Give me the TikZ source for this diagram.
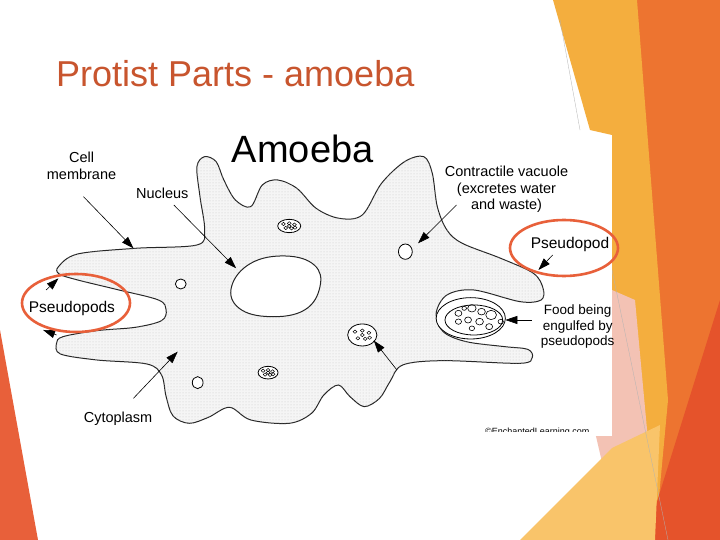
\documentclass[tikz,border=0pt]{standalone}
\usepackage{fontspec}
\setmainfont{Liberation Sans}
\usetikzlibrary{arrows.meta,patterns}
\definecolor{titlec}{HTML}{C8552E}
\definecolor{oran}{HTML}{ED7430}
\definecolor{yell}{HTML}{F4AE3E}
\definecolor{lyell}{HTML}{F9C46A}
\definecolor{dred}{HTML}{E5532B}
\definecolor{pinkc}{HTML}{F3C2B4}
\definecolor{ring}{HTML}{E8603A}
\tikzset{
 lab/.style={font=\fontsize{14.5}{16.5}\selectfont, align=center, inner sep=0pt},
 arr/.style={-{Triangle[length=12pt,width=8pt]}, line width=0.6pt},
 memb/.style={line width=1pt, draw=black!85},
 ringst/.style={draw=ring, line width=2.6pt},
}
\begin{document}
\begin{tikzpicture}[x=1pt,y=-1pt]
\useasboundingbox (0,0) rectangle (720,540);
\fill[white] (0,0) rectangle (720,540);
% decorations
\fill[oran] (637,0) -- (720,0) -- (720,540) -- (640,540) -- cycle;
\fill[yell] (553,0) -- (637,0) -- (668,400) -- (655,540) -- (600,540) -- (612,135) -- (590,130) -- cycle;
\fill[dred] (720,300) -- (720,540) -- (645,540) -- cycle;
\fill[pinkc] (612,290) -- (635,300) -- (648,440) -- (605,475) -- (595,432) -- (612,432) -- cycle;
\fill[lyell] (520,540) -- (612,448) -- (660,425) -- (655,540) -- cycle;
\fill[ring] (0,330) -- (38,540) -- (0,540) -- cycle;
\draw[gray!60, line width=0.3pt] (560,20) -- (580,130);
\draw[gray!60, line width=0.3pt] (612,270) -- (668,540);
% picture
\fill[white] (20,135) rectangle (612,432);
\node[font=\fontsize{36}{38}\selectfont, text=titlec, anchor=base west, inner sep=0pt] (title) at (56,87) {Protist Parts - amoeba};
\begin{scope}[shift={(20,130)}, xscale=0.3846, yscale=0.3333]
\def\amoeba{(100,410) (150,372) (300,355) (460,345) (480,300) (468,200) (460,110) (480,80) (510,95) (530,150) (560,210) (600,230)
 (630,165) (670,150) (720,175) (770,235) (830,265) (890,255) (940,160) (1000,95) (1050,80) (1072,130) (1085,230)
 (1110,300) (1150,340) (1250,385) (1335,430) (1360,475) (1355,510) (1300,515) (1180,480) (1110,495) (1082,550)
 (1100,605) (1160,635) (1260,650) (1320,658) (1332,682) (1300,700) (1100,692) (995,705) (962,755) (935,805)
 (895,830) (858,800) (828,765) (790,795) (758,850) (700,880) (600,870) (545,832) (490,862) (440,880) (398,858)
 (380,800) (368,735) (330,702) (200,690) (105,672) (95,640) (112,620) (200,602) (300,592) (368,572) (380,540)
 (360,510) (250,478) (150,450) (102,432)}
\path[memb, fill=gray!8] plot[smooth cycle, tension=0.55] coordinates {\amoeba};
\path[pattern=dots, pattern color=gray!45] plot[smooth cycle, tension=0.55] coordinates {\amoeba};
% nucleus
\draw[memb, fill=white] plot[smooth cycle, tension=0.7] coordinates {(550,470) (600,400) (690,378) (765,405) (780,470) (740,540) (650,560) (570,535)};
% vacuoles
\draw[line width=0.8pt, fill=white] (1002,365) ellipse [x radius=18, y radius=23];
\draw[line width=0.8pt, fill=white] (418,462) ellipse [x radius=14, y radius=15];
\draw[line width=0.8pt, fill=white] (462,758) ellipse [x radius=14, y radius=18];
% food clusters
\foreach \cx/\cy/\rx/\ry in {700/288/30/20, 890/615/38/33, 645/728/26/19}{
 \draw[line width=0.8pt, fill=white] (\cx,\cy) ellipse [x radius=\rx, y radius=\ry];
 \foreach \dx/\dy in {-0.5/-0.3, 0/-0.4, 0.45/-0.2, -0.3/0.3, 0.2/0.35, 0.5/0.25, 0/0}
   \draw[line width=0.5pt] (\cx+\dx*\rx,\cy+\dy*\ry) circle [radius=5];
}
% food vacuole
\draw[line width=0.8pt, fill=white] (1172,565) ellipse [x radius=90, y radius=62];
\draw[line width=0.8pt] (1180,570) ellipse [x radius=75, y radius=45];
\foreach \dx/\dy/\r in {1140/550/9, 1175/535/11, 1200/545/10, 1225/555/14, 1165/570/9, 1195/575/10, 1140/575/8, 1175/595/7, 1220/590/9, 1250/575/7, 1155/535/6}
  \draw[line width=0.6pt] (\dx,\dy) circle [radius=\r];
% arrow coordinates
\coordinate (cm1) at (165,200); \coordinate (cm2) at (295,355);
\coordinate (nu1) at (400,225); \coordinate (nu2) at (562,415);
\coordinate (cv1) at (1135,225); \coordinate (cv2) at (1035,340);
\coordinate (ps1) at (1385,375); \coordinate (ps2) at (1348,420);
\coordinate (fo1) at (1330,570); \coordinate (fo2) at (1262,570);
\coordinate (pl1) at (68,480); \coordinate (pl2) at (100,445);
\coordinate (pm1) at (95,615); \coordinate (pm2) at (60,600);
\coordinate (cy1) at (295,805); \coordinate (cy2) at (410,665);
\coordinate (cz1) at (980,720); \coordinate (cz2) at (920,632);
\node[font=\fontsize{38}{40}\selectfont, inner sep=0pt] (amtitle) at (735,58) {Amoeba};
\node[lab] (lcm) at (160,108) {Cell\\membrane};
\node[lab] (lnu) at (370,190) {Nucleus};
\node[lab] (lcv) at (1265,178) {Contractile vacuole\\(excretes water\\and waste)};
\node[lab, font=\fontsize{15.5}{17}\selectfont] (lps) at (1430,345) {Pseudopod};
\node[lab, font=\fontsize{15.5}{17}\selectfont] (lpl) at (135,535) {Pseudopods};
\node[lab, font=\fontsize{13.5}{15.5}\selectfont] (lfo) at (1450,590) {Food being\\engulfed by\\pseudopods};
\node[lab] (lcy) at (255,865) {Cytoplasm};
\node[font=\fontsize{9}{10}\selectfont, inner sep=0pt] (copy) at (1345,908) {©EnchantedLearning.com};
\end{scope}
\draw[arr] (cm1) -- (cm2);
\draw[arr] (nu1) -- (nu2);
\draw[arr] (cv1) -- (cv2);
\draw[arr] (ps1) -- (ps2);
\draw[arr] (fo1) -- (fo2);
\draw[arr] (pl1) -- (pl2);
\draw[arr] (pm1) -- (pm2);
\draw[arr] (cy1) -- (cy2);
\draw[arr] (cz1) -- (cz2);
\fill[white] (20,432) rectangle (612,436);
\draw[ringst] (564,248) ellipse [x radius=54, y radius=28];
\draw[ringst] (76,303) ellipse [x radius=54, y radius=29];
\end{tikzpicture}
\end{document}
